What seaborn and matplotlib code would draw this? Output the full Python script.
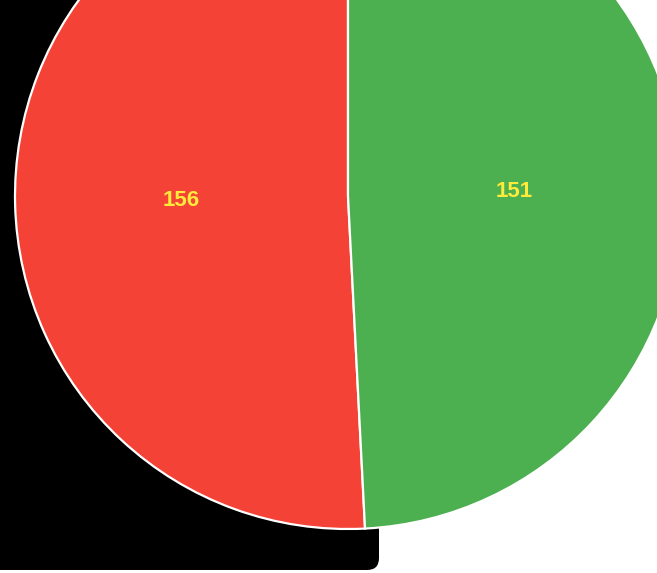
import matplotlib
matplotlib.use('Agg')
import matplotlib.pyplot as plt
import seaborn as sns
from matplotlib.patches import FancyBboxPatch

# data
labels = ['156', '151']
values = [156, 151]
colors = ['#F44336', '#4CAF50']

sns.set_style('white')
plt.rcParams['font.family'] = ['Liberation Sans', 'DejaVu Sans']

fig = plt.figure(figsize=(6.57, 5.73), dpi=100)
fig.patch.set_facecolor('white')
ax = fig.add_axes([0, 0, 1, 1])

# black panel behind the pie, cropped at the top-left
panel = FancyBboxPatch((-40, 3), 419, 640, boxstyle='round,pad=0,rounding_size=12',
                       facecolor='black', edgecolor='none', zorder=0)
ax.add_patch(panel)

wedges, texts = ax.pie(values, labels=labels, colors=colors, startangle=90,
                       counterclock=True, center=(348, 377), radius=333,
                       labeldistance=0.5, frame=True,
                       wedgeprops=dict(edgecolor='white', linewidth=1.6),
                       textprops=dict(color='#FFEB3B', fontsize=16, fontweight='bold',
                                      ha='center', va='center'))
ax.set_xlim(0, 657)
ax.set_ylim(0, 573)
ax.set_aspect('equal')
ax.axis('off')

fig.savefig('out.png', dpi=100, facecolor='white')
